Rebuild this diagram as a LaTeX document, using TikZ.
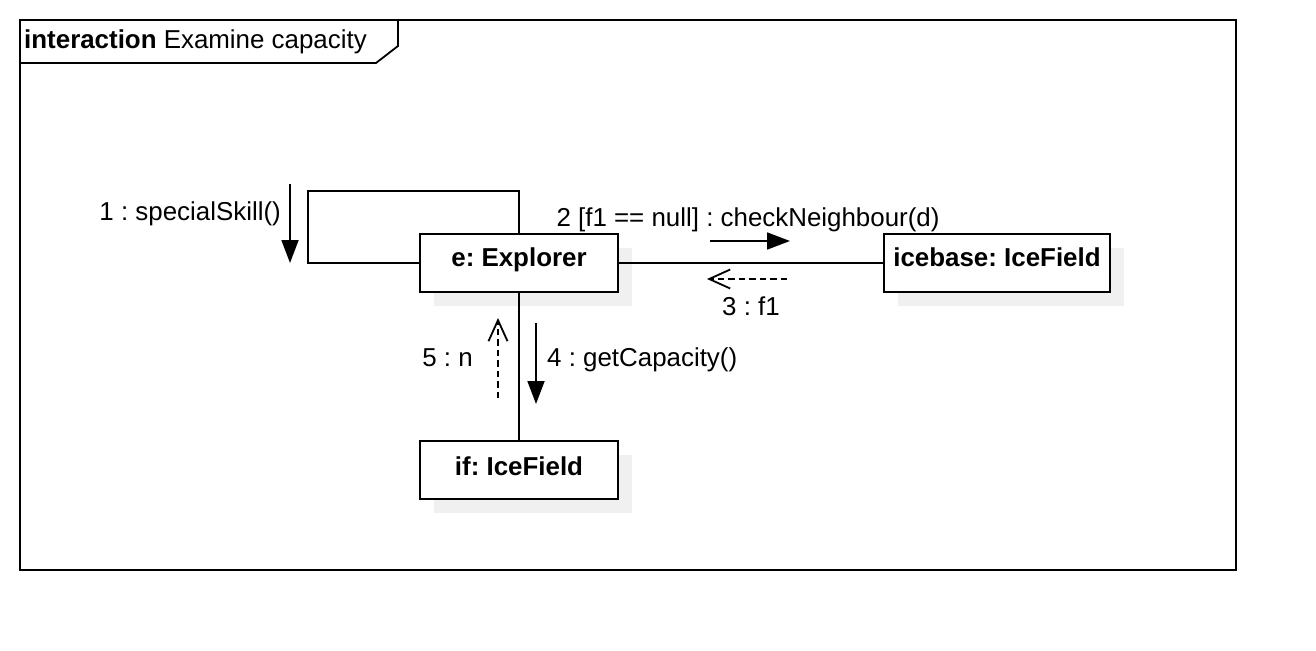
\documentclass[tikz,border=0pt]{standalone}
\usepackage{fontspec}
\setmainfont{Liberation Sans}
\usetikzlibrary{arrows.meta}
\definecolor{shadowgray}{RGB}{240,240,240}
\frenchspacing
\tikzset{
  lw/.style={line width=1.8pt},
  objbox/.style={draw, lw, fill=white, inner sep=0pt, minimum height=58pt},
  objtext/.style={anchor=base, inner sep=0pt, font=\bfseries\fontsize{25.9}{30}\selectfont},
  lbl/.style={inner sep=0pt, font=\fontsize{25.9}{30}\selectfont},
  shadowbox/.style={fill=shadowgray, draw=none},
  callmsg/.style={lw, -{Triangle[length=23pt,width=17pt]}},
  retmsg/.style={lw, dash pattern=on 6.5pt off 4pt, -{Straight Barb[length=21pt,width=19pt]}},
}
\begin{document}
\begin{tikzpicture}[x=1pt,y=-1pt]
\useasboundingbox (0,0) rectangle (1316,650);
% frame
\draw[lw] (20,20) rectangle (1236,570);
\draw[lw] (20,63) -- (376,63) -- (398,46) -- (398,20);
\node[lbl, anchor=base west] (title) at (24,49) {\textbf{interaction} Examine capacity};
% shadows
\fill[shadowbox] (434,248) rectangle (632,306);
\fill[shadowbox] (898,248) rectangle (1124,306);
\fill[shadowbox] (434,455) rectangle (632,513);
% boxes
\node[objbox, minimum width=198pt] (e) at (519,263) {};
\node[objbox, minimum width=226pt] (ib) at (997,263) {};
\node[objbox, minimum width=198pt] (if) at (519,470) {};
\draw[lw] (e.north) |- (308,191) |- (e.west);
\draw[lw] (e.east) -- (ib.west);
\draw[lw] (e.south) -- (if.north);
\node[objtext] (et) at (519,266) {e: Explorer};
\node[objtext] (ibt) at (997,266) {icebase: IceField};
\node[objtext] (ift) at (519,475) {if: IceField};
% messages
\coordinate (m1s) at (290,184); \coordinate (m1e) at (290,263);
\draw[callmsg] (m1s) -- (m1e);
\node[lbl, anchor=base east] (l1) at (281,220) {1 : specialSkill()};
\coordinate (m2s) at (710,241); \coordinate (m2e) at (790,241);
\draw[callmsg] (m2s) -- (m2e);
\node[lbl, anchor=base] (l2) at (748,226) {2 [f1 == null] : checkNeighbour(d)};
\coordinate (m3s) at (787,279); \coordinate (m3e) at (707,279);
\draw[retmsg] (m3s) -- (m3e);
\node[lbl, anchor=base] (l3) at (751,315) {3 : f1};
\coordinate (m4s) at (536,323); \coordinate (m4e) at (536,404);
\draw[callmsg] (m4s) -- (m4e);
\node[lbl, anchor=base west] (l4) at (547,366) {4 : getCapacity()};
\coordinate (m5s) at (498,398); \coordinate (m5e) at (498,318);
\draw[retmsg] (m5s) -- (m5e);
\node[lbl, anchor=base east] (l5) at (473,366) {5 : n};
\end{tikzpicture}
\end{document}
